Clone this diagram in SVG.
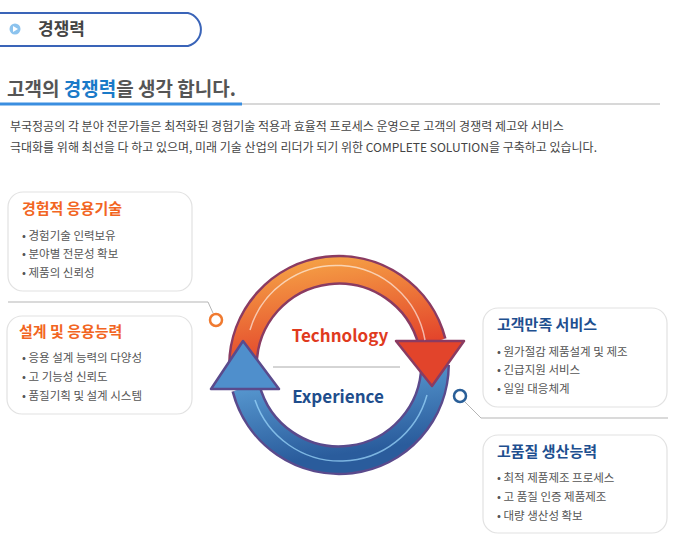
<svg xmlns="http://www.w3.org/2000/svg" width="674" height="543" viewBox="0 0 674 543">
<style>
text{font-family:"Noto Sans CJK KR","Noto Sans",sans-serif}
.box{fill:#fff;stroke:#e2e2e2;stroke-width:1.2}
.to{fill:#f26522;font-size:15px;font-weight:bold}
.tb{fill:#1e4f8f;font-size:15px;font-weight:bold}
.bl{fill:#555;font-size:11.5px}
.ln{fill:none;stroke:#b5b5b5;stroke-width:1}
</style>
<defs>
<linearGradient id="og" x1="0" y1="0" x2="0.3" y2="1"><stop offset="0" stop-color="#f5a045"/><stop offset="1" stop-color="#e2402a"/></linearGradient>
<linearGradient id="bg" x1="0" y1="0" x2="0.3" y2="1"><stop offset="0" stop-color="#62a6dc"/><stop offset="1" stop-color="#2a5c9c"/></linearGradient>
</defs>
<g id="header">
<path d="M-2,13 H188 A17,17 0 0 1 188,46 H-2" fill="#fff" stroke="#3a64b8" stroke-width="2"/>
<circle cx="15" cy="29" r="5.5" fill="#8cc3ee"/>
<path d="M13,26 L18,29 L13,32Z" fill="#fff"/>
<text x="38" y="35" font-size="17" font-weight="bold" fill="#444">경쟁력</text>
<text x="7" y="96" font-size="19" font-weight="bold" fill="#555">고객의 <tspan fill="#1a7ac8">경쟁력</tspan>을 생각 합니다.</text>
<rect x="0" y="103" width="660" height="2" fill="#d8d8d8"/>
<rect x="0" y="102.5" width="242" height="3" fill="#3a8ee0"/>
<text x="10" y="131" font-size="12" fill="#444">부국정공의 각 분야 전문가들은 최적화된 경험기술 적용과 효율적 프로세스 운영으로 고객의 경쟁력 제고와 서비스</text>
<text x="10" y="152" font-size="12" fill="#444">극대화를 위해 최선을 다 하고 있으며, 미래 기술 산업의 리더가 되기 위한 COMPLETE SOLUTION을 구축하고 있습니다.</text>
</g>
<g id="connectors">
<path class="ln" d="M8,302 H208 L213,313"/>
<circle cx="216" cy="320" r="6" fill="#fff" stroke="#f07a30" stroke-width="2.5"/>
<path class="ln" d="M465,402 L481,418 H668"/>
<circle cx="460" cy="396" r="6" fill="#fff" stroke="#2a5f98" stroke-width="2.5"/>
</g>
<g id="cycle">
<path d="M243,365 A96,96 0 0 1 432,342" fill="none" stroke="#8a3b62" stroke-width="30"/>
<path d="M243,365 A96,96 0 0 1 432,342" fill="none" stroke="url(#og)" stroke-width="25"/>
<path d="M435,365 A96,96 0 0 1 246,388" fill="none" stroke="#5a4a8c" stroke-width="30"/>
<path d="M435,365 A96,96 0 0 1 246,388" fill="none" stroke="url(#bg)" stroke-width="25"/>
<path d="M396,341 H464 L432,386Z" fill="#e2442b" stroke="#8a3b62" stroke-width="2.5" stroke-linejoin="round"/>
<path d="M211,389 H279 L243,341Z" fill="#4f8fcc" stroke="#5a4a8c" stroke-width="2.5" stroke-linejoin="round"/>
<path d="M250,330 A90,90 0 0 1 425,340" fill="none" stroke="#fff" stroke-opacity="0.6" stroke-width="1.5"/>
<path d="M427,395 A90,90 0 0 1 255,400" fill="none" stroke="#9fdcff" stroke-opacity="0.7" stroke-width="1.5"/>
<text x="340" y="342" text-anchor="middle" font-size="17" font-weight="bold" fill="#e03a1e" font-family="Open Sans,sans-serif">Technology</text>
<line x1="273" y1="367" x2="400" y2="367" stroke="#aaa"/>
<text x="338" y="403" text-anchor="middle" font-size="17" font-weight="bold" fill="#1e4d8c" font-family="Open Sans,sans-serif">Experience</text>
</g>
<g id="n1"><rect class="box" x="8" y="192" width="184" height="99" rx="15"/>
<text class="to" x="22" y="214">경험적 응용기술</text>
<text class="bl" x="22" y="240">• 경험기술 인력보유</text><text class="bl" x="22" y="258">• 분야별 전문성 확보</text><text class="bl" x="22" y="277">• 제품의 신뢰성</text></g>
<g id="n2"><rect class="box" x="7" y="316" width="185" height="98" rx="15"/>
<text class="to" x="19" y="337">설계 및 응용능력</text>
<text class="bl" x="22" y="362">• 응용 설계 능력의 다양성</text><text class="bl" x="22" y="381">• 고 기능성 신뢰도</text><text class="bl" x="22" y="400">• 품질기획 및 설계 시스템</text></g>
<g id="n3"><rect class="box" x="483" y="308" width="184" height="99" rx="15"/>
<text class="tb" x="497" y="330">고객만족 서비스</text>
<text class="bl" x="497" y="356">• 원가절감 제품설계 및 제조</text><text class="bl" x="497" y="374">• 긴급지원 서비스</text><text class="bl" x="497" y="393">• 일일 대응체계</text></g>
<g id="n4"><rect class="box" x="483" y="435" width="184" height="98" rx="15"/>
<text class="tb" x="497" y="457">고품질 생산능력</text>
<text class="bl" x="497" y="482">• 최적 제품제조 프로세스</text><text class="bl" x="497" y="501">• 고 품질 인증 제품제조</text><text class="bl" x="497" y="520">• 대량 생산성 확보</text></g>
</svg>
